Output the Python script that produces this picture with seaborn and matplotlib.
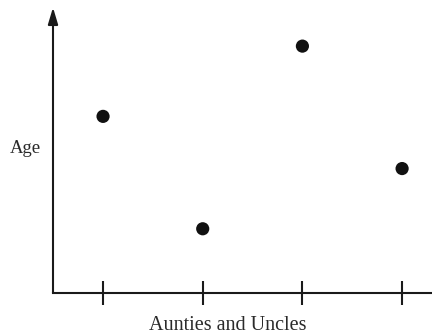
import matplotlib
matplotlib.use("Agg")
import matplotlib.pyplot as plt
import seaborn as sns
import pandas as pd

# Relatives along the x axis and their ages
relatives = ["Relative 1", "Relative 2", "Relative 3", "Relative 4"]
positions = [1, 2, 3, 4]
ages = [44, 16, 61.5, 31]

sns.set_style("white")
plt.rcParams["font.family"] = ["Liberation Serif", "DejaVu Serif"]

df = pd.DataFrame({"relative": relatives, "pos": positions, "age": ages})

fig = plt.figure(figsize=(4.32, 3.34), dpi=100)
ax = fig.add_axes([53 / 432, 41 / 334, 379 / 432, 281 / 334])

sns.scatterplot(data=df, x="pos", y="age", color="#111111", s=90,
                edgecolor="none", ax=ax, legend=False)

ax.set_xlim(0.498, 4.30)
ax.set_ylim(0, 70)

for side in ["top", "right", "left"]:
    ax.spines[side].set_visible(False)
ax.spines["bottom"].set_linewidth(1.5)
ax.spines["bottom"].set_color("#1a1a1a")

# Vertical axis drawn as an arrow
ax.annotate("", xy=(0, 1.016), xytext=(0, 0), xycoords="axes fraction",
            arrowprops=dict(arrowstyle="-|>,head_length=1.0,head_width=0.3",
                            lw=1.5, color="#1a1a1a", shrinkA=0, shrinkB=0))

ax.set_xticks(positions)
ax.set_xticklabels([])
ax.set_yticks([])
ax.tick_params(axis="x", direction="inout", length=17, width=1.5,
               color="#1a1a1a", bottom=True)

ax.set_xlabel("Aunties and Uncles", fontsize=14.5, color="#2a2a2a")
ax.xaxis.set_label_coords(0.462, -0.114)
ax.xaxis.label.set_va("center")
ax.set_ylabel("Age", fontsize=13.5, rotation=0, color="#2a2a2a")
ax.yaxis.set_label_coords(-0.074, 0.516)
ax.yaxis.label.set_va("center")
ax.yaxis.label.set_ha("center")

fig.savefig("out.png", dpi=100)
